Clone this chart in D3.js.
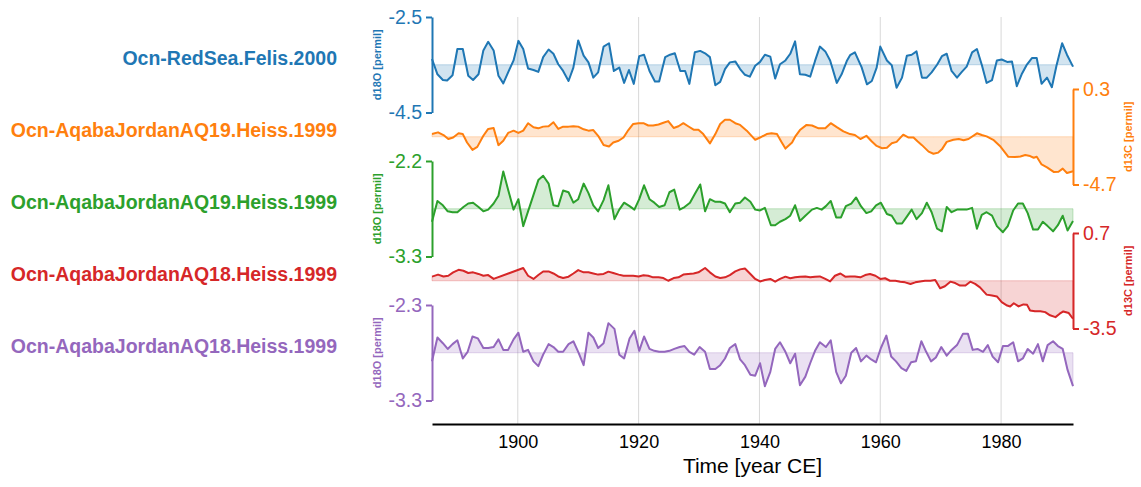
<!DOCTYPE html>
<html><head><meta charset="utf-8">
<script src="https://cdn.jsdelivr.net/npm/d3@7"></script>
<style>
html,body{margin:0;padding:0;background:#fff;}
svg{display:block;font-family:"Liberation Sans",Arial,sans-serif;}
</style></head>
<body><svg id="c" width="1141" height="487"></svg>
<script>
// ---------- DATA ----------
const seriesNames = ["Ocn-RedSea.Felis.2000","Ocn-AqabaJordanAQ19.Heiss.1999","Ocn-AqabaJordanAQ19.Heiss.1999","Ocn-AqabaJordanAQ18.Heiss.1999","Ocn-AqabaJordanAQ18.Heiss.1999"];
const yLabels = ["d18O [permil]","d13C [permil]","d18O [permil]","d13C [permil]","d18O [permil]"];
const colors = ["#1f77b4","#ff7f0e","#2ca02c","#d62728","#9467bd"];
const yTicks = [[-2.5,-4.5],[0.3,-4.7],[-2.2,-3.3],[0.7,-3.5],[-2.3,-3.3]];
const xTicks = [1900,1920,1940,1960,1980];
const xLabel = "Time [year CE]";

const felisTime = [1885.8,1886.7,1887.6,1888.3,1889.2,1890.0,1890.9,1891.8,1892.6,1893.5,1894.3,1895.1,1896.0,1896.8,1897.6,1898.4,1899.3,1900.1,1900.9,1901.7,1902.6,1903.4,1904.2,1905.1,1905.9,1906.7,1907.5,1908.4,1909.2,1910.0,1910.9,1911.7,1912.5,1913.3,1914.2,1915.1,1915.9,1916.8,1917.6,1918.4,1919.2,1920.1,1920.9,1921.8,1922.7,1923.4,1924.4,1925.2,1926.0,1926.9,1927.7,1928.4,1929.3,1930.2,1931.0,1931.8,1932.7,1933.5,1934.3,1935.1,1936.0,1936.8,1937.6,1938.4,1939.3,1940.1,1940.9,1941.8,1942.6,1943.4,1944.3,1945.1,1945.9,1946.7,1947.6,1948.4,1949.2,1950.0,1950.9,1951.7,1952.8,1953.6,1954.5,1955.0,1955.8,1956.9,1957.8,1958.6,1959.4,1960.0,1961.1,1961.9,1962.7,1963.6,1964.4,1965.2,1966.0,1966.9,1967.7,1968.5,1969.4,1970.2,1971.0,1971.8,1972.7,1973.5,1974.3,1975.2,1976.0,1976.8,1977.6,1978.5,1979.3,1980.1,1981.0,1981.8,1982.6,1983.4,1984.3,1985.1,1985.9,1986.7,1987.6,1988.4,1989.2,1990.1,1990.9,1991.9];
const felisD18O = [-3.38,-3.70,-3.82,-3.83,-3.72,-3.17,-3.17,-3.73,-3.82,-3.70,-3.20,-3.02,-3.20,-3.73,-3.89,-3.66,-3.41,-3.00,-3.17,-3.58,-3.61,-3.65,-3.34,-3.18,-3.27,-3.49,-3.63,-3.84,-3.56,-2.99,-3.31,-3.45,-3.77,-3.66,-3.12,-3.05,-3.63,-3.56,-3.88,-3.61,-3.90,-3.32,-3.29,-3.63,-3.85,-3.85,-3.34,-3.29,-3.26,-3.63,-3.63,-3.90,-3.24,-3.21,-3.26,-3.34,-3.93,-3.86,-3.59,-3.45,-3.43,-3.59,-3.71,-3.75,-3.52,-3.44,-3.29,-3.33,-3.79,-3.49,-3.41,-3.27,-3.01,-3.70,-3.71,-3.75,-3.42,-3.12,-3.22,-3.41,-3.88,-3.70,-3.41,-3.30,-3.24,-3.55,-3.91,-3.84,-3.56,-3.12,-3.41,-3.51,-3.98,-3.77,-3.31,-3.29,-3.22,-3.77,-3.77,-3.66,-3.50,-3.32,-3.27,-3.63,-3.77,-3.65,-3.54,-3.24,-3.17,-3.50,-3.88,-3.82,-3.41,-3.39,-3.44,-3.43,-3.95,-3.70,-3.49,-3.36,-3.36,-3.90,-3.77,-3.97,-3.50,-3.05,-3.29,-3.54];

const aq19cTime = [1885.8,1886.8,1887.7,1888.5,1889.3,1890.2,1890.9,1891.6,1892.5,1893.3,1894.3,1895.1,1896.0,1896.8,1897.6,1898.4,1899.3,1900.1,1900.9,1901.7,1902.6,1903.4,1904.2,1905.1,1905.9,1906.7,1907.5,1908.4,1909.2,1910.0,1910.9,1911.7,1912.5,1913.3,1914.2,1915.1,1915.8,1916.7,1917.5,1918.3,1919.1,1920.0,1920.8,1921.6,1922.4,1923.3,1924.1,1924.9,1925.8,1926.6,1927.4,1928.2,1929.1,1929.9,1930.7,1931.8,1932.7,1933.5,1934.3,1935.1,1936.0,1936.8,1937.9,1939.3,1940.1,1941.2,1942.0,1942.9,1943.6,1944.3,1945.4,1946.0,1946.7,1947.8,1948.7,1949.8,1950.9,1951.8,1952.8,1953.9,1955.0,1955.8,1956.7,1957.7,1958.6,1959.4,1960.3,1961.1,1961.9,1962.7,1963.8,1964.7,1965.5,1966.2,1966.9,1968.0,1968.8,1969.6,1970.2,1971.0,1972.1,1973.0,1973.8,1974.6,1976.0,1976.8,1977.6,1978.7,1979.8,1981.2,1982.3,1983.2,1984.0,1984.8,1985.4,1985.9,1986.7,1987.6,1988.7,1989.5,1990.2,1990.9,1991.9];
const aq19cD13C = [-2.06,-1.97,-2.11,-2.32,-2.24,-2.02,-2.06,-2.50,-2.89,-2.73,-2.15,-1.79,-1.74,-2.64,-2.41,-2.00,-1.88,-2.00,-1.88,-1.49,-1.70,-1.76,-1.67,-1.65,-1.44,-1.79,-1.67,-1.67,-1.65,-1.67,-1.81,-1.88,-1.85,-2.15,-2.63,-2.71,-2.50,-2.41,-2.24,-1.85,-1.53,-1.49,-1.49,-1.61,-1.61,-1.56,-1.47,-1.38,-1.74,-1.65,-1.49,-1.65,-1.83,-1.83,-2.06,-2.55,-2.06,-1.53,-1.31,-1.31,-1.49,-1.58,-1.88,-2.36,-2.24,-2.06,-2.02,-2.06,-2.45,-2.82,-2.50,-2.15,-1.85,-1.58,-1.61,-1.76,-1.76,-1.49,-1.70,-1.92,-2.06,-2.11,-2.32,-2.15,-2.45,-2.68,-2.80,-2.77,-2.54,-2.47,-2.09,-2.24,-2.24,-2.45,-2.64,-2.98,-3.09,-3.03,-2.86,-2.47,-2.36,-2.32,-2.38,-2.32,-2.02,-2.11,-2.18,-2.36,-2.68,-3.25,-3.26,-3.23,-3.16,-3.21,-3.30,-3.25,-3.65,-3.80,-4.04,-4.03,-3.87,-4.10,-4.01];

const aq19oTime = [1885.8,1886.7,1887.6,1888.4,1889.2,1890.0,1891.0,1891.8,1892.6,1893.5,1894.3,1895.1,1896.0,1896.8,1897.6,1898.4,1899.3,1900.1,1900.9,1901.7,1902.6,1903.4,1904.2,1905.1,1905.9,1906.7,1907.5,1908.4,1909.2,1910.0,1910.9,1911.7,1912.5,1913.3,1914.2,1915.0,1916.0,1916.8,1917.6,1918.5,1919.3,1920.1,1920.9,1921.8,1922.6,1923.4,1924.3,1925.1,1925.9,1926.8,1927.6,1928.5,1929.3,1930.2,1931.0,1931.8,1932.7,1933.5,1934.3,1935.1,1936.0,1936.8,1937.6,1938.5,1939.3,1940.1,1940.9,1941.9,1942.6,1943.4,1944.3,1945.1,1945.9,1946.7,1947.6,1948.7,1949.5,1950.3,1951.0,1951.8,1952.7,1953.5,1954.3,1955.2,1956.0,1956.8,1957.7,1958.5,1959.3,1960.1,1961.1,1961.9,1962.7,1963.6,1964.4,1965.2,1966.0,1966.9,1967.7,1968.5,1969.4,1970.2,1971.0,1971.8,1972.7,1973.5,1974.3,1975.2,1976.0,1976.8,1977.6,1978.5,1979.3,1980.3,1981.1,1982.0,1982.8,1983.6,1984.4,1985.3,1986.1,1986.9,1987.7,1988.6,1989.4,1990.2,1991.0,1991.9];
const aq19oD18O = [-2.90,-2.66,-2.71,-2.78,-2.79,-2.79,-2.73,-2.69,-2.68,-2.73,-2.78,-2.76,-2.69,-2.60,-2.32,-2.53,-2.76,-2.64,-2.95,-2.78,-2.59,-2.42,-2.37,-2.46,-2.71,-2.72,-2.54,-2.56,-2.68,-2.64,-2.46,-2.57,-2.71,-2.78,-2.65,-2.48,-2.87,-2.76,-2.68,-2.72,-2.76,-2.64,-2.48,-2.64,-2.68,-2.73,-2.71,-2.56,-2.53,-2.76,-2.73,-2.68,-2.58,-2.47,-2.78,-2.64,-2.67,-2.67,-2.69,-2.79,-2.69,-2.68,-2.62,-2.67,-2.76,-2.77,-2.74,-2.94,-2.94,-2.90,-2.87,-2.83,-2.71,-2.89,-2.83,-2.76,-2.74,-2.76,-2.72,-2.66,-2.85,-2.85,-2.72,-2.69,-2.62,-2.72,-2.80,-2.78,-2.71,-2.68,-2.81,-2.83,-2.92,-2.92,-2.84,-2.76,-2.87,-2.80,-2.68,-2.79,-2.98,-3.01,-2.73,-2.79,-2.76,-2.76,-2.76,-2.74,-2.98,-2.82,-2.79,-2.83,-2.95,-3.02,-2.95,-2.77,-2.69,-2.69,-2.80,-2.99,-2.99,-2.90,-2.95,-3.01,-2.94,-2.83,-3.00,-2.89];

const aq18cTime = [1885.8,1886.8,1887.7,1888.5,1889.3,1890.2,1891.0,1891.8,1892.6,1893.5,1894.3,1895.1,1896.0,1900.9,1901.7,1902.6,1903.4,1904.2,1905.1,1905.9,1906.7,1907.5,1908.4,1909.2,1910.0,1910.9,1911.7,1912.5,1913.3,1914.2,1915.0,1915.8,1916.7,1917.5,1918.3,1919.1,1920.0,1920.8,1921.6,1922.4,1923.3,1924.1,1924.9,1925.8,1926.6,1927.4,1928.2,1929.1,1929.9,1931.0,1931.8,1932.7,1933.5,1934.3,1935.1,1936.0,1936.8,1937.6,1938.5,1939.3,1940.1,1940.9,1941.8,1942.6,1943.4,1944.3,1945.1,1945.9,1946.7,1947.6,1948.4,1949.2,1950.0,1950.9,1951.7,1952.5,1953.4,1954.2,1955.0,1955.8,1956.7,1957.5,1958.3,1959.2,1960.0,1960.8,1961.6,1962.5,1963.3,1964.1,1965.0,1965.8,1966.6,1967.4,1968.3,1969.1,1969.9,1970.7,1971.6,1972.4,1973.2,1974.1,1974.9,1975.7,1976.5,1977.6,1978.5,1979.3,1980.1,1981.0,1981.5,1982.1,1982.9,1983.7,1984.3,1984.8,1985.6,1986.5,1987.3,1988.1,1989.0,1989.7,1990.3,1991.2,1991.9];
const aq18cD13C = [-1.22,-1.13,-1.21,-1.18,-1.03,-0.92,-0.96,-1.06,-1.03,-1.10,-1.18,-1.15,-1.32,-0.84,-1.18,-1.32,-1.15,-0.99,-0.99,-1.08,-1.21,-1.28,-1.22,-1.08,-0.93,-1.03,-1.03,-1.08,-1.13,-1.10,-1.00,-1.06,-1.13,-1.18,-1.18,-1.18,-1.21,-1.16,-1.18,-1.25,-1.25,-1.28,-1.40,-1.28,-1.25,-1.13,-1.10,-1.08,-1.03,-0.84,-1.03,-1.21,-1.28,-1.25,-1.15,-0.99,-0.90,-0.86,-1.10,-1.32,-1.43,-1.37,-1.32,-1.44,-1.32,-1.22,-1.29,-1.25,-1.22,-1.21,-1.25,-1.22,-1.21,-1.32,-1.43,-1.18,-1.08,-1.22,-1.21,-1.21,-1.25,-1.15,-1.10,-1.18,-1.32,-1.29,-1.40,-1.40,-1.44,-1.47,-1.54,-1.47,-1.43,-1.40,-1.40,-1.37,-1.73,-1.64,-1.44,-1.50,-1.61,-1.61,-1.44,-1.54,-1.69,-2.01,-2.05,-2.09,-2.34,-2.49,-2.53,-2.39,-2.53,-2.44,-2.46,-2.71,-2.74,-2.74,-2.78,-2.92,-3.00,-2.85,-2.75,-2.82,-3.07];

const aq18oTime = [1885.8,1886.7,1887.6,1888.4,1889.2,1890.0,1890.9,1891.7,1892.5,1893.4,1894.3,1895.1,1896.0,1896.8,1897.6,1898.4,1899.3,1900.1,1900.9,1901.7,1902.6,1903.4,1904.2,1905.1,1905.9,1906.7,1907.5,1908.4,1909.2,1910.0,1910.9,1911.7,1912.5,1913.3,1914.2,1915.0,1916.0,1916.8,1917.6,1918.5,1919.3,1920.1,1920.9,1921.8,1922.6,1923.4,1924.3,1925.1,1925.9,1926.8,1927.6,1928.4,1929.2,1930.1,1931.0,1931.8,1932.7,1933.5,1934.3,1935.1,1936.0,1936.8,1937.6,1938.5,1939.3,1940.1,1940.9,1941.8,1942.6,1943.4,1944.3,1945.1,1945.9,1946.7,1947.6,1948.4,1949.2,1950.0,1951.0,1951.8,1952.7,1953.5,1954.3,1955.2,1956.0,1956.8,1957.7,1958.5,1959.3,1960.1,1961.0,1961.8,1962.6,1963.5,1964.3,1965.1,1965.9,1966.8,1967.6,1968.4,1969.2,1970.1,1971.0,1971.8,1972.7,1973.7,1974.5,1975.3,1976.1,1977.0,1977.8,1978.6,1979.5,1980.3,1981.1,1982.0,1982.8,1983.6,1984.4,1985.3,1986.1,1986.9,1987.7,1988.6,1989.4,1990.2,1991.0,1991.9];
const aq18oD18O = [-2.89,-2.64,-2.70,-2.76,-2.71,-2.67,-2.86,-2.79,-2.63,-2.65,-2.75,-2.75,-2.74,-2.66,-2.77,-2.77,-2.66,-2.59,-2.79,-2.77,-2.89,-2.94,-2.82,-2.71,-2.74,-2.79,-2.79,-2.71,-2.68,-2.79,-2.93,-2.59,-2.64,-2.75,-2.70,-2.49,-2.55,-2.82,-2.86,-2.65,-2.57,-2.78,-2.63,-2.76,-2.78,-2.79,-2.79,-2.78,-2.76,-2.74,-2.73,-2.79,-2.82,-2.74,-2.79,-2.97,-2.97,-2.93,-2.86,-2.75,-2.71,-2.87,-2.93,-3.03,-3.04,-2.91,-3.15,-3.00,-2.76,-2.69,-2.79,-2.91,-2.81,-3.14,-3.05,-2.91,-2.78,-2.69,-2.74,-2.67,-3.00,-3.12,-3.04,-2.80,-2.75,-2.89,-2.83,-2.87,-2.90,-2.75,-2.62,-2.84,-2.89,-2.96,-2.99,-2.90,-2.89,-2.68,-2.79,-2.89,-2.85,-2.74,-2.83,-2.77,-2.72,-2.60,-2.60,-2.77,-2.76,-2.79,-2.72,-2.84,-2.90,-2.73,-2.73,-2.69,-2.89,-2.86,-2.76,-2.81,-2.71,-2.89,-2.72,-2.68,-2.73,-2.76,-2.98,-3.15];

const times = [felisTime, aq19cTime, aq19oTime, aq18cTime, aq18oTime];
const values = [felisD18O, aq19cD13C, aq19oD18O, aq18cD13C, aq18oD18O];

// ---------- LAYOUT ----------
const svg = d3.select("#c");
const plotL = 432, plotR = 1073;
const axTop0 = 17, axStep = 72, axH = 95.5;
const xAxisY = 424;
const FONT = '"Liberation Sans",Arial,sans-serif';

const allT = times.flat();
const x = d3.scaleLinear().domain(d3.extent(allT)).range([plotL, plotR]);

// gridlines
svg.append("g").selectAll("line").data(xTicks).join("line")
  .attr("x1", d => x(d)).attr("x2", d => x(d))
  .attr("y1", axTop0).attr("y2", xAxisY)
  .attr("stroke", "#d8d8d8").attr("stroke-width", 1);

seriesNames.forEach((name, i) => {
  const top = axTop0 + i * axStep;
  const y = d3.scaleLinear().domain([yTicks[i][1], yTicks[i][0]]).range([top + axH, top]);
  const base = (yTicks[i][0] + yTicks[i][1]) / 2;
  const pts = times[i].map((t, k) => [t, values[i][k]]);
  const col = colors[i];
  const g = svg.append("g");

  g.append("path").datum(pts)
    .attr("d", d3.area().x(d => x(d[0])).y0(y(base)).y1(d => y(d[1])))
    .attr("fill", col).attr("fill-opacity", 0.2)
    .attr("stroke", col).attr("stroke-opacity", 0.25).attr("stroke-width", 1);

  g.append("path").datum(pts)
    .attr("d", d3.line().x(d => x(d[0])).y(d => y(d[1])))
    .attr("fill", "none").attr("stroke", col).attr("stroke-width", 2)
    .attr("stroke-linejoin", "round");

  const left = (i % 2 === 0);
  const ax = (left ? d3.axisLeft(y) : d3.axisRight(y))
    .tickValues(yTicks[i]).tickSize(6).tickSizeOuter(0).tickPadding(4)
    .tickFormat(d => d.toFixed(1));
  const ag = svg.append("g").attr("transform", `translate(${left ? plotL : plotR},0)`).call(ax);
  ag.select(".domain").attr("stroke", col).attr("stroke-width", 2);
  ag.selectAll(".tick line").attr("stroke", col).attr("stroke-width", 2);
  ag.selectAll(".tick text").attr("fill", col).style("font-size", "19.5px").style("font-family", FONT);

  // y-axis title
  const tx = left ? 377 : 1128;
  svg.append("text")
    .attr("transform", `translate(${tx},${top + axH / 2}) rotate(-90)`)
    .attr("text-anchor", "middle").attr("dy", "0.35em")
    .attr("fill", col).style("font-size", "11px").style("font-weight", "bold").style("font-family", FONT)
    .text(yLabels[i]);

  // series name
  svg.append("text")
    .attr("x", 337).attr("y", top + axH / 2)
    .attr("text-anchor", "end")
    .attr("fill", col).style("font-size", "19.5px").style("font-weight", "bold").style("font-family", FONT)
    .text(name);
});

// x axis
const xa = svg.append("g").attr("transform", `translate(0,${xAxisY})`)
  .call(d3.axisBottom(x).tickValues(xTicks).tickSize(0).tickPadding(11).tickFormat(d3.format("d")));
xa.select(".domain").attr("stroke", "#000").attr("stroke-width", 2);
xa.selectAll(".tick text").attr("fill", "#000").style("font-size", "18px").style("font-family", FONT);

svg.append("text").attr("x", (plotL + plotR) / 2).attr("y", 473)
  .attr("text-anchor", "middle").attr("fill", "#000")
  .style("font-size", "21px").style("font-family", FONT).text(xLabel);
</script>
</body></html>
